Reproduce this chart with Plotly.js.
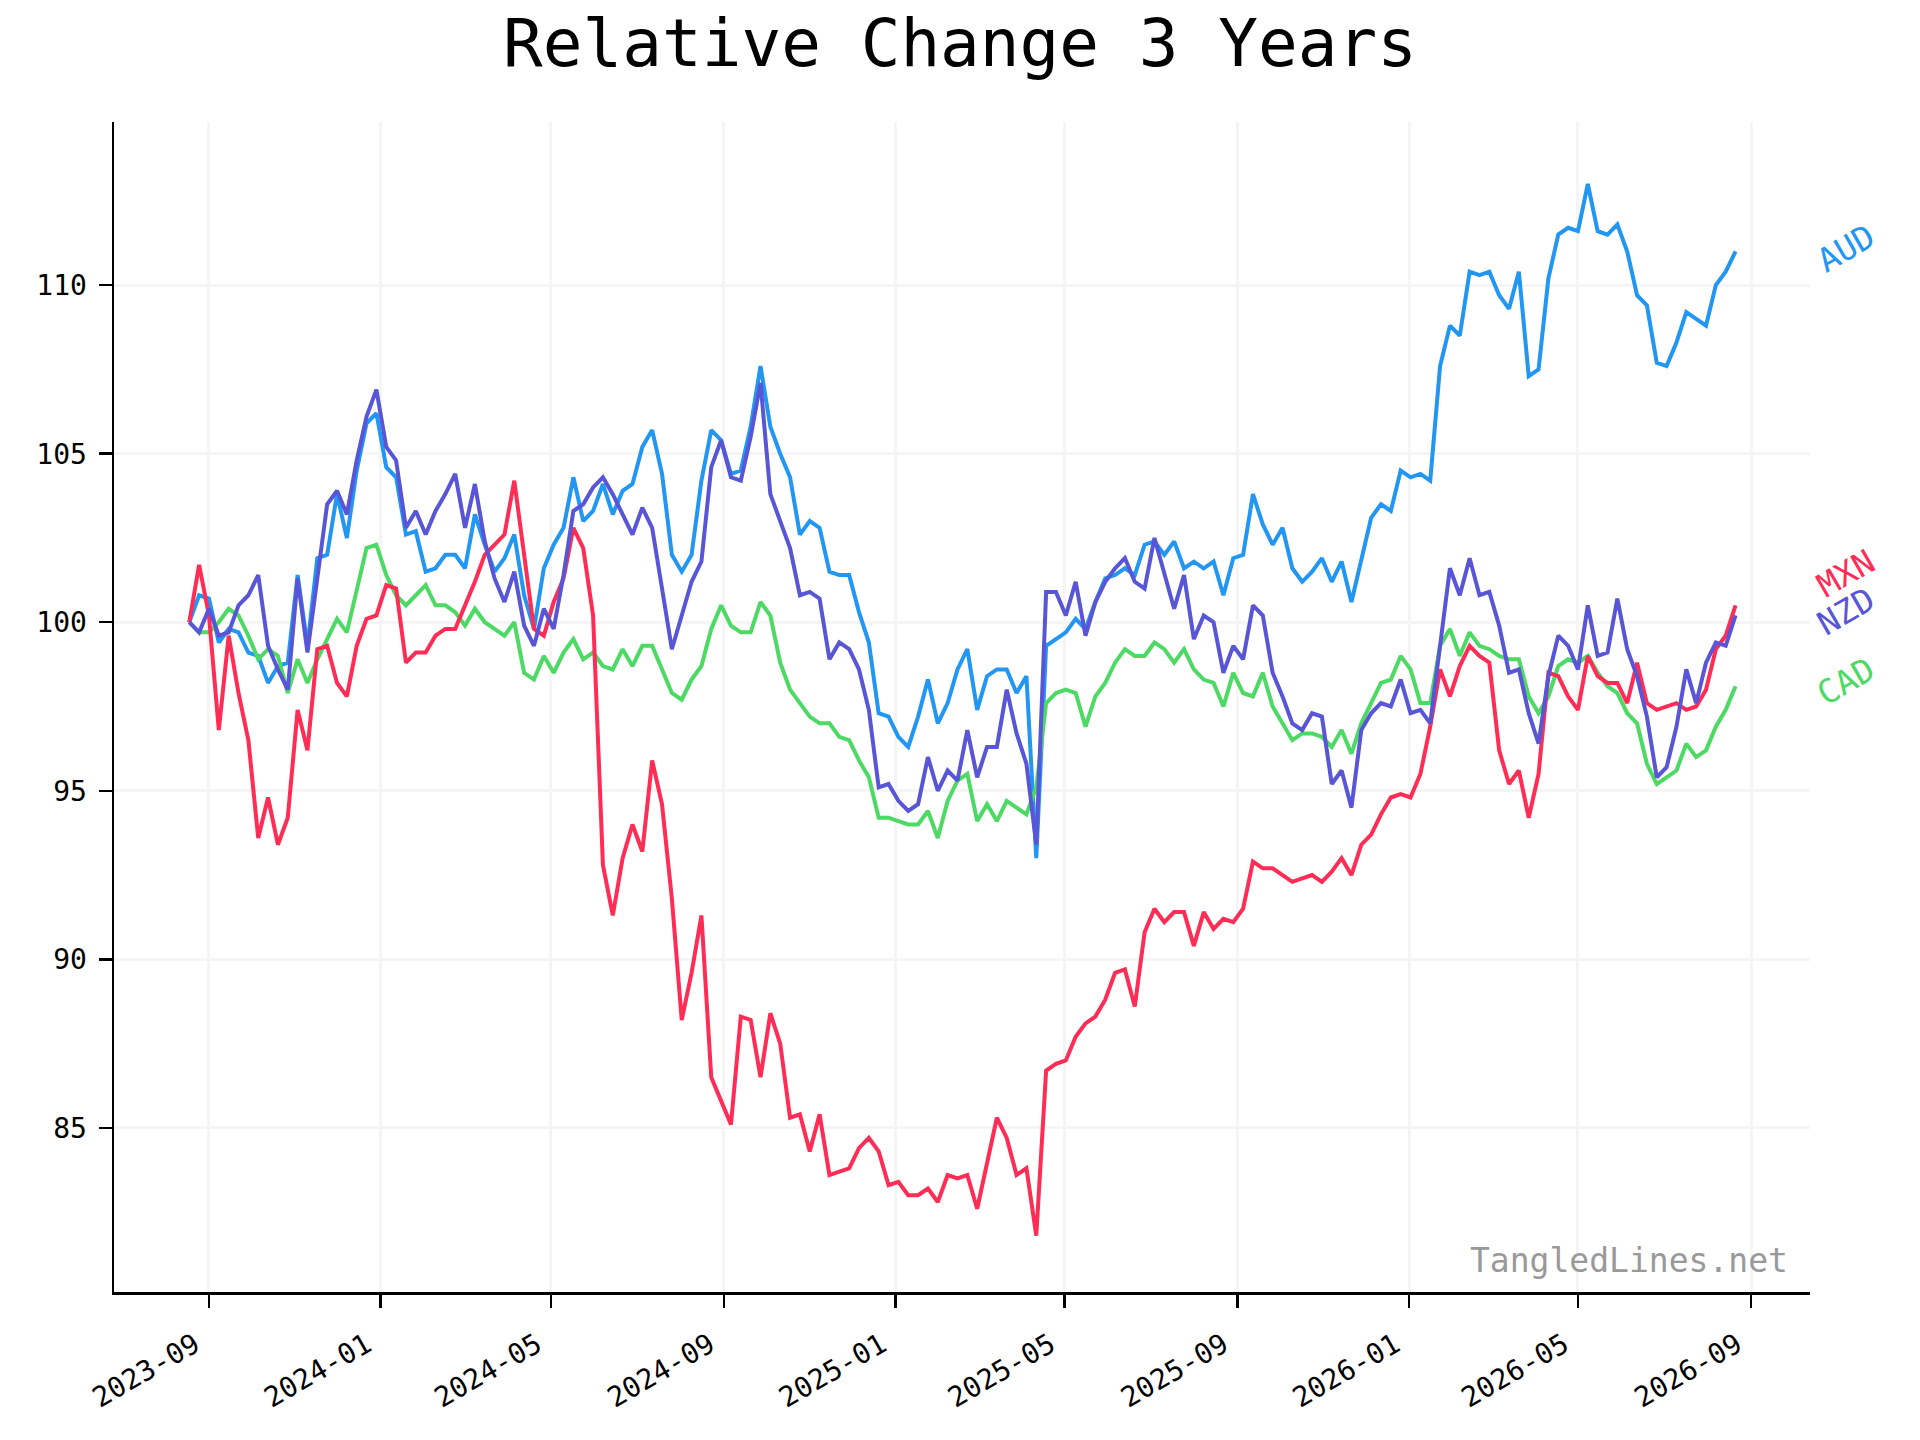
<!DOCTYPE html>
<html>
<head>
<meta charset="utf-8">
<script src="https://cdn.plot.ly/plotly-3.0.1.min.js"></script>
<style>
  html, body { margin: 0; padding: 0; background: #fff; }
  #chart-container { width: 1920px; height: 1440px; }
</style>
</head>
<body>
<div id="chart-container"></div>
<script>
// weekly closes, rebased to 100 at the first week
const startDate = '2023-08-18'
const currencies = ['AUD', 'CAD', 'MXN', 'NZD']
const colors = ['#2196F3', '#4CD964', '#FF2D55', '#5856D6']

const AUD = [
  100.0, 100.8, 100.7, 99.4, 99.8, 99.7, 99.1, 99.0, 98.2, 98.7,
  98.8, 101.4, 99.3, 101.9, 102.0, 103.8, 102.5, 104.5, 105.9, 106.2,
  104.6, 104.3, 102.6, 102.7, 101.5, 101.6, 102.0, 102.0, 101.6, 103.2,
  102.3, 101.5, 101.9, 102.6, 100.8, 99.8, 101.6, 102.3, 102.8, 104.3,
  103.0, 103.3, 104.1, 103.2, 103.9, 104.1, 105.2, 105.7, 104.4, 102.0,
  101.5, 102.0, 104.2, 105.7, 105.4, 104.4, 104.5, 105.8, 107.6, 105.8,
  105.0, 104.3, 102.6, 103.0, 102.8, 101.5, 101.4, 101.4, 100.3, 99.4,
  97.3, 97.2, 96.6, 96.3, 97.2, 98.3, 97.0, 97.6, 98.6, 99.2,
  97.4, 98.4, 98.6, 98.6, 97.9, 98.4, 93.0, 99.3, 99.5, 99.7,
  100.1, 99.8, 100.6, 101.3, 101.4, 101.6, 101.4, 102.3, 102.4, 102.0,
  102.4, 101.6, 101.8, 101.6, 101.8, 100.8, 101.9, 102.0, 103.8, 102.9,
  102.3, 102.8, 101.6, 101.2, 101.5, 101.9, 101.2, 101.8, 100.6, 101.9,
  103.1, 103.5, 103.3, 104.5, 104.3, 104.4, 104.2, 107.6, 108.8, 108.5,
  110.4, 110.3, 110.4, 109.7, 109.3, 110.4, 107.3, 107.5, 110.2, 111.5,
  111.7, 111.6, 113.0, 111.6, 111.5, 111.8, 111.0, 109.7, 109.4, 107.7,
  107.6, 108.3, 109.2, 109.0, 108.8, 110.0, 110.4, 111.0
]

const CAD = [
  100.0, 99.7, 99.7, 100.0, 100.4, 100.2, 99.6, 98.9, 99.2, 99.0,
  97.9, 98.9, 98.2, 98.9, 99.5, 100.1, 99.7, 101.0, 102.2, 102.3,
  101.4, 100.8, 100.5, 100.8, 101.1, 100.5, 100.5, 100.3, 99.9, 100.4,
  100.0, 99.8, 99.6, 100.0, 98.5, 98.3, 99.0, 98.5, 99.1, 99.5,
  98.9, 99.1, 98.7, 98.6, 99.2, 98.7, 99.3, 99.3, 98.6, 97.9,
  97.7, 98.3, 98.7, 99.8, 100.5, 99.9, 99.7, 99.7, 100.6, 100.2,
  98.8, 98.0, 97.6, 97.2, 97.0, 97.0, 96.6, 96.5, 95.9, 95.4,
  94.2, 94.2, 94.1, 94.0, 94.0, 94.4, 93.6, 94.7, 95.3, 95.5,
  94.1, 94.6, 94.1, 94.7, 94.5, 94.3, 95.1, 97.6, 97.9, 98.0,
  97.9, 96.9, 97.8, 98.2, 98.8, 99.2, 99.0, 99.0, 99.4, 99.2,
  98.8, 99.2, 98.6, 98.3, 98.2, 97.5, 98.5, 97.9, 97.8, 98.5,
  97.5, 97.0, 96.5, 96.7, 96.7, 96.6, 96.3, 96.8, 96.1, 97.0,
  97.6, 98.2, 98.3, 99.0, 98.6, 97.6, 97.6, 99.3, 99.8, 99.0,
  99.7, 99.3, 99.2, 99.0, 98.9, 98.9, 97.8, 97.3, 97.8, 98.7,
  98.9, 98.8, 99.0, 98.5, 98.1, 97.9, 97.3, 97.0, 95.8, 95.2,
  95.4, 95.6, 96.4, 96.0, 96.2, 96.9, 97.4, 98.1
]

const MXN = [
  100.0, 101.7, 100.2, 96.8, 99.6, 97.9, 96.5, 93.6, 94.8, 93.4,
  94.2, 97.4, 96.2, 99.2, 99.3, 98.2, 97.8, 99.3, 100.1, 100.2,
  101.1, 101.0, 98.8, 99.1, 99.1, 99.6, 99.8, 99.8, 100.5, 101.2,
  102.0, 102.3, 102.6, 104.2, 102.0, 99.8, 99.6, 100.6, 101.3, 102.8,
  102.2, 100.2, 92.8, 91.3, 93.0, 94.0, 93.2, 95.9, 94.6, 91.8,
  88.2, 89.6, 91.3, 86.5, 85.8, 85.1, 88.3, 88.2, 86.5, 88.4,
  87.5, 85.3, 85.4, 84.3, 85.4, 83.6, 83.7, 83.8, 84.4, 84.7,
  84.3, 83.3, 83.4, 83.0, 83.0, 83.2, 82.8, 83.6, 83.5, 83.6,
  82.6, 84.0, 85.3, 84.7, 83.6, 83.8, 81.8, 86.7, 86.9, 87.0,
  87.7, 88.1, 88.3, 88.8, 89.6, 89.7, 88.6, 90.8, 91.5, 91.1,
  91.4, 91.4, 90.4, 91.4, 90.9, 91.2, 91.1, 91.5, 92.9, 92.7,
  92.7, 92.5, 92.3, 92.4, 92.5, 92.3, 92.6, 93.0, 92.5, 93.4,
  93.7, 94.3, 94.8, 94.9, 94.8, 95.5, 96.9, 98.6, 97.8, 98.7,
  99.3, 99.0, 98.8, 96.2, 95.2, 95.6, 94.2, 95.5, 98.5, 98.4,
  97.8, 97.4, 99.0, 98.4, 98.2, 98.2, 97.6, 98.8, 97.6, 97.4,
  97.5, 97.6, 97.4, 97.5, 98.0, 99.2, 99.6, 100.5
]

const NZD = [
  100.0, 99.7, 100.4, 99.6, 99.7, 100.5, 100.8, 101.4, 99.3, 98.6,
  98.0, 101.3, 99.1, 101.2, 103.5, 103.9, 103.2, 104.8, 106.1, 106.9,
  105.2, 104.8, 102.8, 103.3, 102.6, 103.3, 103.8, 104.4, 102.8, 104.1,
  102.4, 101.3, 100.6, 101.5, 99.9, 99.3, 100.4, 99.8, 101.4, 103.3,
  103.5, 104.0, 104.3, 103.8, 103.2, 102.6, 103.4, 102.8, 101.0, 99.2,
  100.2, 101.2, 101.8, 104.6, 105.4, 104.3, 104.2, 105.5, 107.1, 103.8,
  103.0, 102.2, 100.8, 100.9, 100.7, 98.9, 99.4, 99.2, 98.6, 97.4,
  95.1, 95.2, 94.7, 94.4, 94.6, 96.0, 95.0, 95.6, 95.3, 96.8,
  95.4, 96.3, 96.3, 98.0, 96.7, 95.8, 93.4, 100.9, 100.9, 100.2,
  101.2, 99.6, 100.6, 101.2, 101.6, 101.9, 101.2, 101.0, 102.5, 101.5,
  100.4, 101.4, 99.5, 100.2, 100.0, 98.5, 99.3, 98.9, 100.5, 100.2,
  98.5, 97.8, 97.0, 96.8, 97.3, 97.2, 95.2, 95.6, 94.5, 96.8,
  97.3, 97.6, 97.5, 98.3, 97.3, 97.4, 97.0, 99.3, 101.6, 100.8,
  101.9, 100.8, 100.9, 99.9, 98.5, 98.6, 97.3, 96.4, 98.4, 99.6,
  99.3, 98.6, 100.5, 99.0, 99.1, 100.7, 99.2, 98.4, 97.2, 95.4,
  95.7, 96.9, 98.6, 97.6, 98.8, 99.4, 99.3, 100.2
]

const seriesValues = [AUD, CAD, MXN, NZD]

// end-of-line label heights (value units), nudged apart like the original
const labelY = [111.1, 98.25, 101.45, 100.33]

function weeklyDates(start, n) {
    const d0 = new Date(start + 'T00:00:00Z')
    return Array.from({length: n}, (_, i) => {
        const d = new Date(d0.getTime() + i * 7 * 86400000)
        return d.toISOString().slice(0, 10)
    })
}

const font = 'DejaVu Sans Mono, monospace'

function DrawChart() {
    const dates = weeklyDates(startDate, AUD.length)

    let data = currencies.map((c, i) => ({
        x: dates,
        y: seriesValues[i],
        type: 'scatter',
        mode: 'lines',
        name: c,
        line: {color: colors[i], width: 4},
        hoverinfo: 'skip'
    }))

    let annotations = currencies.map((c, i) => ({
        xref: 'paper',
        yref: 'y',
        x: 1.021,
        y: labelY[i],
        xanchor: 'center',
        yanchor: 'middle',
        text: c,
        textangle: -30,
        showarrow: false,
        font: {family: font, size: 33, color: colors[i]}
    }))

    annotations.push({
        xref: 'paper',
        yref: 'paper',
        x: 0.988,
        xanchor: 'right',
        y: 0.027,
        yanchor: 'middle',
        text: 'TangledLines.net',
        showarrow: false,
        font: {family: font, size: 33, color: '#999999'}
    })

    const axisCommon = {
        showline: true,
        linecolor: '#000',
        linewidth: 2.5,
        ticks: 'outside',
        ticklen: 13,
        tickwidth: 2.5,
        tickcolor: '#000',
        showgrid: true,
        gridcolor: '#f5f5f5',
        gridwidth: 3,
        zeroline: false,
        mirror: false,
        tickfont: {family: font, size: 28, color: '#000'}
    }

    let layout = {
        width: 1920,
        height: 1440,
        paper_bgcolor: '#fff',
        plot_bgcolor: '#fff',
        showlegend: false,
        margin: {l: 114, r: 110, t: 122, b: 148},
        title: {
            text: 'Relative Change 3 Years',
            font: {family: font, size: 66, color: '#000'},
            x: 0.5,
            xanchor: 'center',
            y: 1 - 43 / 1440,
            yanchor: 'middle',
            yref: 'container'
        },
        xaxis: Object.assign({}, axisCommon, {
            type: 'date',
            range: ['2023-06-25 12:00', '2026-10-12 22:00'],
            tick0: '2023-09-01',
            dtick: 'M4',
            tickformat: '%Y-%m',
            tickangle: -30,
            ticklabelshift: -14,
            ticklabelstandoff: 10
        }),
        yaxis: Object.assign({}, axisCommon, {
            range: [80.13, 114.84],
            tick0: 0,
            dtick: 5,
            ticklabelstandoff: 6
        }),
        annotations: annotations
    }

    Plotly.newPlot('chart-container', data, layout, {staticPlot: true})
}

DrawChart()
</script>
</body>
</html>
